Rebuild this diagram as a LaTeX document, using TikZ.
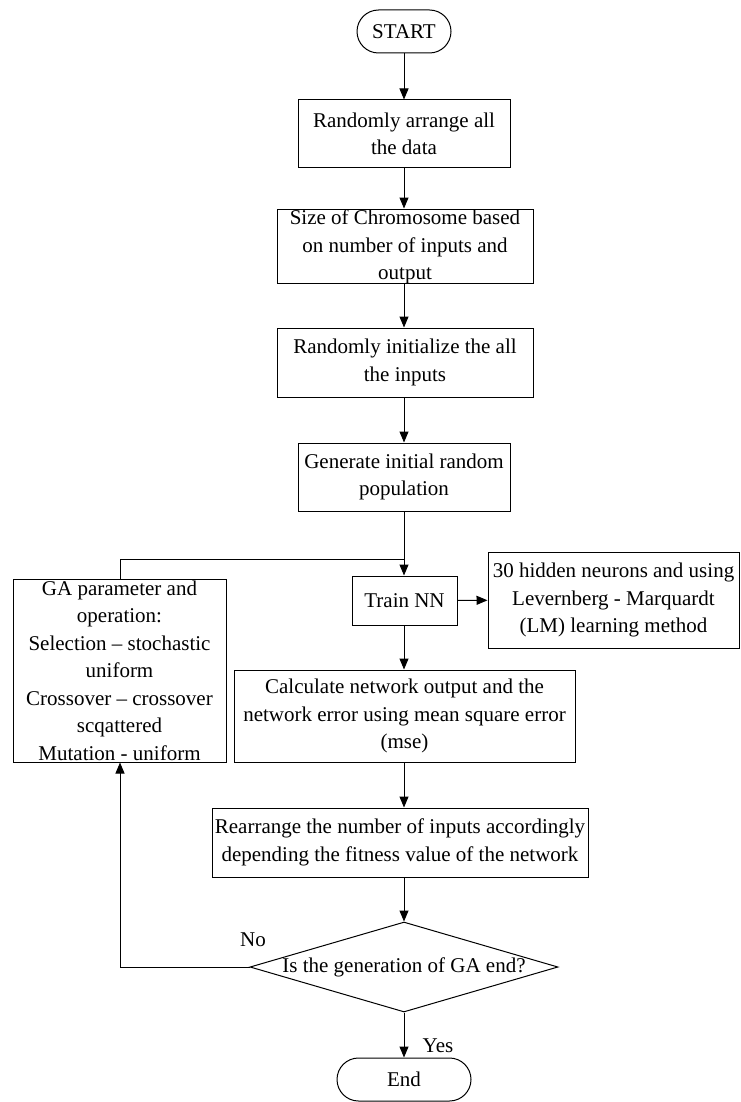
\documentclass[tikz,border=0pt]{standalone}
\usepackage{fontspec}
\setmainfont{Liberation Serif}
\usetikzlibrary{arrows.meta,shapes.geometric,calc}
\begin{document}
\begin{tikzpicture}[x=1pt,y=-1pt,
  txt/.style={inner sep=0pt, align=center, font=\fontsize{21}{27.5}\selectfont},
  box/.style={draw, line width=1pt, txt},
  term/.style={box, rounded corners=21.5pt},
  arr/.style={line width=1pt, -{Triangle[length=11pt,width=9pt]}},
  ln/.style={line width=1pt}]
\useasboundingbox (0,0) rectangle (740,1102);

\node[term, minimum width=94pt, minimum height=43pt] (start) at (404,31.5) {START};
\node[box, minimum width=212pt, minimum height=68pt] (b1) at (404,134) {Randomly arrange all\\the data};
\node[box, minimum width=256pt, minimum height=74pt] (b2) at (405,246) {};
\node[txt] (b2t) at (405,247) {Size of Chromosome based\\on number of inputs and\\output};
\node[box, minimum width=256pt, minimum height=69pt] (b3) at (405,362.5) {Randomly initialize the all\\the inputs};
\node[box, minimum width=212pt, minimum height=68pt] (b4) at (404,477) {Generate initial random\\population};
\node[box, minimum width=105pt, minimum height=49pt] (train) at (404.5,600.5) {Train NN};
\node[box, minimum width=251pt, minimum height=96pt] (lm) at (613.5,600) {30 hidden neurons and using\\Levernberg - Marquardt\\(LM) learning method};
\node[box, minimum width=213pt, minimum height=183pt] (ga) at (119.5,670.5) {GA parameter and\\operation:\\Selection -- stochastic\\uniform\\Crossover -- crossover\\scqattered\\Mutation - uniform};
\node[box, minimum width=341pt, minimum height=92pt] (calc) at (404.5,716) {Calculate network output and the\\network error using mean square error\\(mse)};
\node[box, minimum width=376pt, minimum height=69pt] (rearr) at (400,842.5) {Rearrange the number of inputs accordingly\\depending the fitness value of the network};
\node[diamond, draw, line width=1pt, inner sep=0pt, minimum width=308pt, minimum height=90pt] (dec) at (404,967) {};
\node[txt] (dect) at (404,967) {Is the generation of GA end?};
\node[term, minimum width=134pt, minimum height=43pt] (end) at (404,1079.5) {End};

\node[txt] (no) at (253,940) {No};
\node[txt] (yes) at (438,1046) {Yes};

\coordinate (j) at (404,559);
\coordinate (c1) at (120,967);

\draw[arr] (start) -- (b1);
\draw[arr] (b1) -- (b1.south |- b2.north);
\draw[arr] (b2.south -| b1.south) -- (b1.south |- b3.north);
\draw[arr] (b3.south -| b1.south) -- (b4);
\draw[arr] (b4.south) -- (b4.south |- train.north);
\draw[arr] (train) -- (lm);
\draw[arr] (train.south -| b4.south) -- (b4.south |- calc.north);
\draw[arr] (calc.south -| b4.south) -- (b4.south |- rearr.north);
\draw[arr] (rearr.south -| b4.south) -- (dec.north);
\draw[arr] (dec.south) -- (end.north);
\draw[arr] (dec.west) -- (c1) -- (c1 |- ga.south);
\draw[ln] (c1 |- ga.north) |- (j);
\end{tikzpicture}
\end{document}
